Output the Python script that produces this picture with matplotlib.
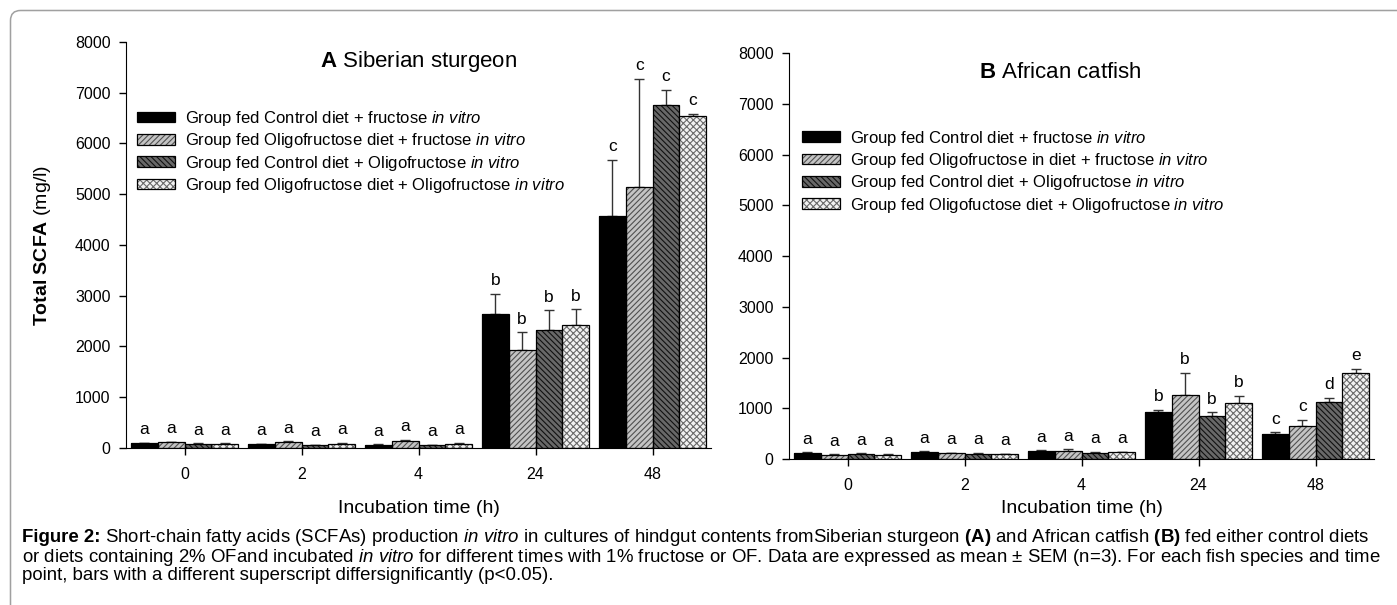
import numpy as np
import matplotlib
matplotlib.use('Agg')
import matplotlib.pyplot as plt
from matplotlib.patches import Patch, FancyBboxPatch
from matplotlib.legend_handler import HandlerTuple

plt.rcParams['font.family'] = ['Liberation Sans', 'DejaVu Sans']
plt.rcParams['mathtext.fontset'] = 'custom'
plt.rcParams['mathtext.rm'] = 'Liberation Sans'
plt.rcParams['mathtext.it'] = 'Liberation Sans:italic'
plt.rcParams['mathtext.bf'] = 'Liberation Sans:bold'
plt.rcParams['hatch.linewidth'] = 0.8

# time points (h)
times = ['0', '2', '4', '24', '48']

# A: Siberian sturgeon, mean and SEM per series (rows = time points)
sturgeon_mean = [[90, 110, 80, 85],
                 [70, 120, 60, 85],
                 [65, 140, 60, 85],
                 [2650, 1930, 2320, 2430],
                 [4580, 5150, 6750, 6550]]
sturgeon_sem = [[10, 10, 10, 10],
                [8, 15, 8, 15],
                [8, 20, 8, 15],
                [390, 350, 390, 300],
                [1100, 2120, 310, 40]]
sturgeon_letters = [['a', 'a', 'a', 'a'],
                    ['a', 'a', 'a', 'a'],
                    ['a', 'a', 'a', 'a'],
                    ['b', 'b', 'b', 'b'],
                    ['c', 'c', 'c', 'c']]

# B: African catfish
catfish_mean = [[125, 85, 100, 85],
                [145, 110, 100, 95],
                [160, 150, 115, 130],
                [930, 1270, 850, 1095],
                [490, 650, 1120, 1700]]
catfish_sem = [[10, 10, 15, 8],
               [10, 15, 25, 10],
               [10, 45, 30, 10],
               [35, 430, 75, 150],
               [35, 120, 85, 75]]
catfish_letters = [['a', 'a', 'a', 'a'],
                   ['a', 'a', 'a', 'a'],
                   ['a', 'a', 'a', 'a'],
                   ['b', 'b', 'b', 'b'],
                   ['c', 'c', 'd', 'e']]

labels_a = [r'Group fed Control diet + fructose $\mathit{in\ vitro}$',
            r'Group fed Oligofructose diet + fructose $\mathit{in\ vitro}$',
            r'Group fed Control diet + Oligofructose $\mathit{in\ vitro}$',
            r'Group fed Oligofructose diet + Oligofructose $\mathit{in\ vitro}$']
labels_b = [r'Group fed Control diet + fructose $\mathit{in\ vitro}$',
            r'Group fed Oligofructose in diet + fructose $\mathit{in\ vitro}$',
            r'Group fed Control diet + Oligofructose $\mathit{in\ vitro}$',
            r'Group fed Oligofuctose diet + Oligofructose $\mathit{in\ vitro}$']

face_list = ('black', '#c4c4c4', '#686868', '#f2f2f2')
hatch_list = ('', '//////', '\\\\\\\\\\\\', 'xxxxx')
hatch_color_list = ('black', '#505050', '#111111', '#6a6a6a')

bar_w = 0.229


def draw_panel(ax, means, sems, letters, labels, title, title_x, legend_x, legend_y):
    means = np.array(means)
    sems = np.array(sems)
    x = np.arange(len(times))
    handles = []
    for i in range(4):
        xs = x + (i - 1.5) * bar_w
        ax.bar(xs, means[:, i], bar_w, color=face_list[i], edgecolor=hatch_color_list[i],
               hatch=hatch_list[i], linewidth=0, zorder=2)
        ax.bar(xs, means[:, i], bar_w, fill=False, edgecolor='black', linewidth=0.9, zorder=3)
        ax.errorbar(xs, means[:, i], yerr=[np.zeros(len(xs)), sems[:, i]], fmt='none',
                    ecolor='#333333', elinewidth=1, capsize=3.3, capthick=1, zorder=1)
        for j in range(len(xs)):
            ax.annotate(letters[j][i], (xs[j], means[j, i] + sems[j, i]), xytext=(0, 4),
                        textcoords='offset points', ha='center', va='bottom', fontsize=12.5)
        p_fill = Patch(facecolor=face_list[i], edgecolor=hatch_color_list[i], hatch=hatch_list[i],
                       linewidth=0)
        p_edge = Patch(fill=False, edgecolor='black', linewidth=0.9)
        handles.append((p_fill, p_edge))

    ax.set_xlim(-0.5, 4.5)
    ax.set_ylim(0, 8000)
    ax.set_yticks(np.arange(0, 8001, 1000))
    ax.set_xticks(x)
    ax.set_xticklabels(times)
    ax.spines['top'].set_visible(False)
    ax.spines['right'].set_visible(False)
    ax.tick_params(direction='out', length=5, width=1, labelsize=11.5, pad=6)
    ax.tick_params(axis='x', pad=9)
    ax.text(title_x, 0.951, title, transform=ax.transAxes, ha='center', va='center', fontsize=16)
    ax.legend(handles, labels, handler_map={tuple: HandlerTuple(ndivide=1)},
              loc='upper left', bbox_to_anchor=(legend_x, legend_y), frameon=False,
              fontsize=12, handlelength=2.3, handleheight=0.6, handletextpad=0.6,
              labelspacing=0.2, borderpad=0, borderaxespad=0)


fig = plt.figure(figsize=(13.97, 6.05), dpi=100)
ax_a = fig.add_axes([0.0902, 0.2595, 0.4188, 0.6711])
ax_b = fig.add_axes([0.5648, 0.2413, 0.4188, 0.6711])

draw_panel(ax_a, sturgeon_mean, sturgeon_sem, sturgeon_letters, labels_a,
           r'$\mathbf{A}$ Siberian sturgeon', 0.5, 0.0188, 0.835)
draw_panel(ax_b, catfish_mean, catfish_sem, catfish_letters, labels_b,
           r'$\mathbf{B}$ African catfish', 0.463, 0.0222, 0.814)

ax_a.set_ylabel(r'$\mathbf{Total\ SCFA}$ (mg/l)', fontsize=14)
ax_a.yaxis.set_label_coords(-0.125, 0.5)
ax_a.set_xlabel('Incubation time (h)', fontsize=14)
ax_a.xaxis.set_label_coords(0.5, -0.127)
ax_b.set_xlabel('Incubation time (h)', fontsize=14)
ax_b.xaxis.set_label_coords(0.5, -0.101)

# caption: bold lead-in, then the rest of the first line right after it
cap_x = 22 / 1397
cap_size = 13.4
lead = fig.text(cap_x, 1 - 538 / 605, 'Figure 2:', fontsize=cap_size, fontweight='bold',
                ha='left', va='center')
renderer = fig.canvas.get_renderer()
lead_w = lead.get_window_extent(renderer).width / 1397
caption = [r' Short-chain fatty acids (SCFAs) production $\mathit{in\ vitro}$ in cultures of hindgut contents fromSiberian sturgeon $\mathbf{(A)}$ and African catfish $\mathbf{(B)}$ fed either control diets',
           r'or diets containing 2% OFand incubated $\mathit{in\ vitro}$ for different times with 1% fructose or OF. Data are expressed as mean $\pm$ SEM (n=3). For each fish species and time',
           'point, bars with a different superscript differsignificantly (p<0.05).']
for k, line in enumerate(caption):
    x0 = cap_x + lead_w if k == 0 else cap_x
    fig.text(x0, 1 - (538 + 19 * k) / 605, line, fontsize=cap_size, ha='left', va='center')

# page frame with rounded corner
frame = FancyBboxPatch((10.5, -50), 1500, 594.5 + 50, boxstyle='round,pad=0,rounding_size=10',
                       transform=None, fill=False, edgecolor='#a0a0a0', linewidth=1.1)
fig.add_artist(frame)

fig.savefig('out.png', dpi=100)
